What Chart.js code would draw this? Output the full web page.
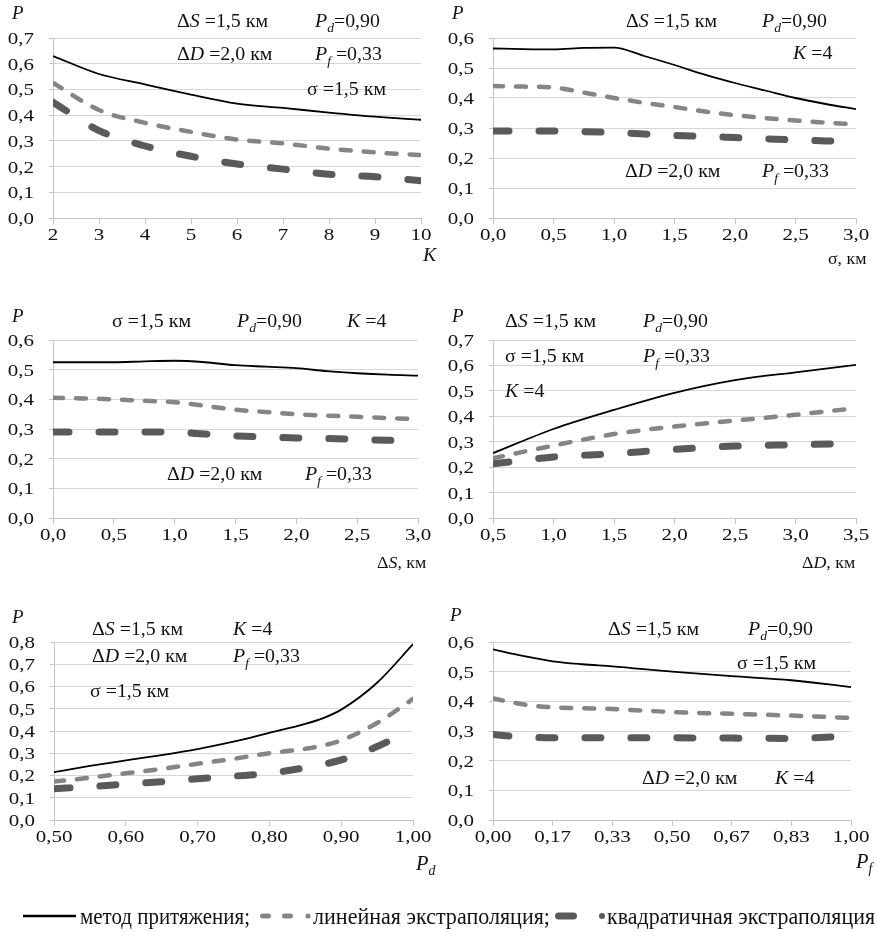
<!DOCTYPE html>
<html>
<head>
<meta charset="utf-8">
<script src="https://cdn.jsdelivr.net/npm/chart.js@4.4.1/dist/chart.umd.min.js"></script>
<style>
  body { margin: 0; background: #fff; width: 877px; height: 932px; position: relative; overflow: hidden; }
  canvas { position: absolute; }
</style>
</head>
<body>
<canvas id="c1" width="440" height="290" style="left:0;top:0"></canvas>
<canvas id="c2" width="437" height="290" style="left:440px;top:0"></canvas>
<canvas id="c3" width="440" height="300" style="left:0;top:300px"></canvas>
<canvas id="c4" width="437" height="300" style="left:440px;top:300px"></canvas>
<canvas id="c5" width="440" height="300" style="left:0;top:600px"></canvas>
<canvas id="c6" width="437" height="300" style="left:440px;top:600px"></canvas>
<canvas id="legend" width="877" height="37" style="left:0;top:895px"></canvas>
<script>
// legend names
var seriesNames = ["метод притяжения;", "линейная экстраполяция;", "квадратичная экстраполяция"];

// P(K)
var kX = [2, 3, 4, 5, 6, 7, 8, 9, 10];
var kAttr = [0.63, 0.56, 0.52, 0.48, 0.445, 0.428, 0.41, 0.394, 0.382];
var kLin = [0.525, 0.42, 0.37, 0.335, 0.305, 0.29, 0.27, 0.255, 0.245];
var kQuad = [0.45, 0.34, 0.28, 0.24, 0.21, 0.19, 0.17, 0.16, 0.145];
var kTicks = [2, 3, 4, 5, 6, 7, 8, 9, 10];

// P(sigma)
var sgX = [0, 0.25, 0.5, 0.75, 1, 1.25, 1.5, 1.75, 2, 2.25, 2.5, 2.75, 3];
var sgAttr = [0.565, 0.563, 0.562, 0.567, 0.568, 0.54, 0.51, 0.478, 0.45, 0.425, 0.4, 0.38, 0.363];
var sgLin = [0.44, 0.438, 0.435, 0.418, 0.4, 0.384, 0.37, 0.355, 0.343, 0.333, 0.325, 0.318, 0.312];
var sgQuad = [0.29, 0.29, 0.29, 0.288, 0.285, 0.28, 0.275, 0.272, 0.268, 0.264, 0.26, 0.257, 0.255];
var sgTicks = [0, 0.5, 1, 1.5, 2, 2.5, 3];

// P(dS)
var dsX = [0, 0.25, 0.5, 0.75, 1, 1.25, 1.5, 1.75, 2, 2.25, 2.5, 2.75, 3];
var dsAttr = [0.525, 0.525, 0.525, 0.528, 0.53, 0.525, 0.515, 0.51, 0.505, 0.495, 0.488, 0.483, 0.48];
var dsLin = [0.405, 0.403, 0.4, 0.395, 0.39, 0.378, 0.365, 0.357, 0.35, 0.345, 0.341, 0.337, 0.333];
var dsQuad = [0.29, 0.29, 0.29, 0.29, 0.289, 0.283, 0.277, 0.273, 0.27, 0.268, 0.265, 0.262, 0.26];
var dsTicks = [0, 0.5, 1, 1.5, 2, 2.5, 3];

// P(dD)
var ddX = [0.5, 1, 1.5, 2, 2.5, 3, 3.5];
var ddAttr = [0.255, 0.35, 0.425, 0.492, 0.542, 0.573, 0.602];
var ddLin = [0.235, 0.285, 0.33, 0.36, 0.383, 0.406, 0.432];
var ddQuad = [0.213, 0.24, 0.253, 0.27, 0.283, 0.288, 0.293];
var ddTicks = [0.5, 1, 1.5, 2, 2.5, 3, 3.5];

// P(Pd)
var pdX = [0.5, 0.55, 0.6, 0.65, 0.7, 0.75, 0.8, 0.85, 0.875, 0.9, 0.95, 1];
var pdAttr = [0.215, 0.243, 0.268, 0.292, 0.319, 0.352, 0.392, 0.432, 0.458, 0.496, 0.617, 0.79];
var pdLin = [0.173, 0.19, 0.21, 0.23, 0.253, 0.275, 0.3, 0.32, 0.335, 0.358, 0.436, 0.544];
var pdQuad = [0.14, 0.15, 0.161, 0.172, 0.185, 0.197, 0.21, 0.235, 0.25, 0.27, 0.33, 0.409];
var pdTicks = [0.5, 0.6, 0.7, 0.8, 0.9, 1];

// P(Pf)
var pfX = [0, 0.0833, 0.1667, 0.25, 0.3333, 0.5, 0.6667, 0.8333, 1];
var pfAttr = [0.575, 0.553, 0.535, 0.525, 0.518, 0.5, 0.485, 0.471, 0.448];
var pfLin = [0.41, 0.39, 0.38, 0.377, 0.374, 0.364, 0.358, 0.352, 0.344];
var pfQuad = [0.288, 0.28, 0.277, 0.277, 0.277, 0.277, 0.276, 0.275, 0.283];
var pfTicks = [0, 0.1667, 0.3333, 0.5, 0.6667, 0.8333, 1];

// text bits used in the panels
var S15 = [["Δ", ""], ["S", "i"], [" =1,5 км", ""]];
var D20 = [["Δ", ""], ["D", "i"], [" =2,0 км", ""]];
var PD90 = [["P", "i"], ["d", "s"], ["=0,90", ""]];
var PF33 = [["P", "i"], ["f", "s"], [" =0,33", ""]];
var SG15 = [["σ =1,5 км", ""]];
var K4 = [["K", "i"], [" =4", ""]];
var PY = [["P", "i"]];

var FONT = '"Liberation Serif", "Times New Roman", serif';
var TXT = "#111";

function fmt(v, d) {
    return v.toFixed(d).replace(".", ",");
}

function fontFor(st, size) {
    var s = st === "s" ? size * 0.68 : size;
    return (st ? "italic " : "") + s.toFixed(1) + "px " + FONT;
}

function richWidth(ctx, segs, size) {
    var w = 0;
    for (var i = 0; i < segs.length; i++) {
        ctx.font = fontFor(segs[i][1], size);
        w += ctx.measureText(segs[i][0]).width;
    }
    return w;
}

// draws mixed normal / italic / subscript text, y is the vertical middle of the digits
function drawRich(ctx, segs, x, y, size, sx, align) {
    ctx.save();
    ctx.translate(x, y);
    ctx.scale(sx, 1);
    ctx.fillStyle = TXT;
    ctx.textBaseline = "alphabetic";
    ctx.textAlign = "left";
    var cx = 0;
    var w = richWidth(ctx, segs, size);
    if (align === "right") cx = -w;
    if (align === "center") cx = -w / 2;
    var base = size * 0.34;
    for (var i = 0; i < segs.length; i++) {
        ctx.font = fontFor(segs[i][1], size);
        var dy = segs[i][1] === "s" ? size * 0.28 : 0;
        ctx.fillText(segs[i][0], cx, base + dy);
        cx += ctx.measureText(segs[i][0]).width;
    }
    ctx.restore();
}

function lineSets(xs, a, l, q) {
    function pts(ys) {
        return xs.map(function(x, i) { return { x: x, y: ys[i] }; });
    }
    return [
        { label: seriesNames[0], data: pts(a), borderColor: "#000", borderWidth: 1.8 },
        { label: seriesNames[1], data: pts(l), borderColor: "#858585", borderWidth: 4.5, borderDash: [10, 13], borderCapStyle: "round" },
        { label: seriesNames[2], data: pts(q), borderColor: "#5a5a5a", borderWidth: 7, borderDash: [16, 30], borderCapStyle: "round" }
    ];
}

function makePanel(id, area, sets, xTicks, xDec, yMax, notes) {
    var cv = document.getElementById(id);
    var W = cv.width, H = cv.height;
    var yTicks = [];
    for (var v = 0; v <= yMax + 0.001; v += 0.1) yTicks.push(Math.round(v * 10) / 10);
    return new Chart(cv, {
        type: "line",
        data: { datasets: sets },
        options: {
            responsive: false,
            animation: false,
            devicePixelRatio: 1,
            layout: { padding: { left: 0, top: area.t, right: W - area.r, bottom: 0 } },
            elements: { point: { radius: 0 }, line: { cubicInterpolationMode: "monotone", fill: false } },
            plugins: { legend: { display: false }, tooltip: { enabled: false } },
            scales: {
                x: {
                    type: "linear",
                    min: xTicks[0],
                    max: xTicks[xTicks.length - 1],
                    afterBuildTicks: function(s) { s.ticks = xTicks.map(function(t) { return { value: t }; }); },
                    afterFit: function(s) { s.height = H - area.b; },
                    ticks: { display: false },
                    grid: { drawOnChartArea: false, drawTicks: true, tickLength: 6, color: "#c4c4c4" },
                    border: { display: true, color: "#c4c4c4", width: 1 }
                },
                y: {
                    min: 0,
                    max: yMax,
                    afterBuildTicks: function(s) { s.ticks = yTicks.map(function(t) { return { value: t }; }); },
                    afterFit: function(s) { s.width = area.l; },
                    ticks: { display: false },
                    grid: { color: "#d6d6d6", lineWidth: 1, tickLength: 4, tickColor: "#c4c4c4" },
                    border: { display: true, color: "#c4c4c4", width: 1 }
                }
            }
        },
        plugins: [{
            id: "texts",
            afterDraw: function(chart) {
                var ctx = chart.ctx;
                var xs = chart.scales.x, ys = chart.scales.y;
                xs.ticks.forEach(function(t) {
                    drawRich(ctx, [[fmt(t.value, xDec), ""]], xs.getPixelForValue(t.value), area.b + 16, 17.5, 1.2, "center");
                });
                ys.ticks.forEach(function(t) {
                    drawRich(ctx, [[fmt(t.value, 1), ""]], area.l - 19, ys.getPixelForValue(t.value), 17.5, 1.2, "right");
                });
                notes.forEach(function(n) {
                    drawRich(ctx, n[0], n[1], n[2], n[3] || 19.5, n[4] || 1.02, "left");
                });
            }
        }]
    });
}

makePanel("c1", { l: 53, r: 421, t: 38, b: 218 }, lineSets(kX, kAttr, kLin, kQuad), kTicks, 0, 0.7, [
    [PY, 12, 13, 18.5], [S15, 177, 20], [PD90, 315, 20], [D20, 177, 53], [PF33, 315, 53], [SG15, 307, 88],
    [[["K", "i"]], 423, 254, 19.5]
]);
makePanel("c2", { l: 53, r: 416, t: 38, b: 218 }, lineSets(sgX, sgAttr, sgLin, sgQuad), sgTicks, 1, 0.6, [
    [PY, 12, 13, 18.5], [S15, 186, 20], [PD90, 322, 20], [K4, 353, 52], [D20, 185, 170], [PF33, 322, 170],
    [[["σ, км", ""]], 388, 258, 17.5]
]);
makePanel("c3", { l: 53, r: 418, t: 40, b: 218 }, lineSets(dsX, dsAttr, dsLin, dsQuad), dsTicks, 1, 0.6, [
    [PY, 12, 16, 18.5], [SG15, 112, 20], [PD90, 237, 20], [K4, 347, 20], [D20, 167, 173], [PF33, 305, 173],
    [[["Δ", ""], ["S", "i"], [", км", ""]], 377, 262, 17.5]
]);
makePanel("c4", { l: 53, r: 416, t: 40, b: 218 }, lineSets(ddX, ddAttr, ddLin, ddQuad), ddTicks, 1, 0.7, [
    [PY, 12, 16, 18.5], [S15, 65, 20], [PD90, 203, 20], [SG15, 65, 55], [PF33, 203, 55], [K4, 65, 90],
    [[["Δ", ""], ["D", "i"], [", км", ""]], 362, 262, 17.5]
]);
makePanel("c5", { l: 54, r: 413, t: 42, b: 220 }, lineSets(pdX, pdAttr, pdLin, pdQuad), pdTicks, 2, 0.8, [
    [PY, 12, 17, 18.5], [S15, 92, 28], [K4, 233, 28], [D20, 92, 55], [PF33, 233, 55], [SG15, 90, 90],
    [[["P", "i"], ["d", "s"]], 416, 263, 20]
]);
makePanel("c6", { l: 53, r: 411, t: 42, b: 220 }, lineSets(pfX, pfAttr, pfLin, pfQuad), pfTicks, 2, 0.6, [
    [PY, 10, 15, 18.5], [S15, 168, 28], [PD90, 308, 28], [SG15, 297, 62], [D20, 202, 177], [K4, 335, 177],
    [[["P", "i"], ["f", "s"]], 416, 261, 20]
]);

// legend row at the bottom
(function() {
    var ctx = document.getElementById("legend").getContext("2d");
    var y = 21;
    ctx.lineCap = "butt";
    ctx.strokeStyle = "#000";
    ctx.lineWidth = 2.5;
    ctx.beginPath(); ctx.moveTo(23, y); ctx.lineTo(76, y); ctx.stroke();

    ctx.strokeStyle = "#858585";
    ctx.lineWidth = 5;
    ctx.lineCap = "round";
    ctx.setLineDash([6, 16]);
    ctx.beginPath(); ctx.moveTo(262.5, y); ctx.lineTo(292, y); ctx.stroke();
    ctx.setLineDash([]);
    ctx.fillStyle = "#858585";
    ctx.beginPath(); ctx.arc(308, y, 2.6, 0, Math.PI * 2); ctx.fill();

    ctx.strokeStyle = "#5a5a5a";
    ctx.lineWidth = 7;
    ctx.beginPath(); ctx.moveTo(558.5, y); ctx.lineTo(573.5, y); ctx.stroke();
    ctx.fillStyle = "#5a5a5a";
    ctx.beginPath(); ctx.arc(602, y, 3, 0, Math.PI * 2); ctx.fill();

    var spots = [[80, 250], [313, 550], [607, 875]];
    for (var i = 0; i < 3; i++) {
        var segs = [[seriesNames[i], ""]];
        var w = richWidth(ctx, segs, 22.5);
        drawRich(ctx, segs, spots[i][0], y + 0.5, 22.5, (spots[i][1] - spots[i][0]) / w, "left");
    }
})();
</script>
</body>
</html>
